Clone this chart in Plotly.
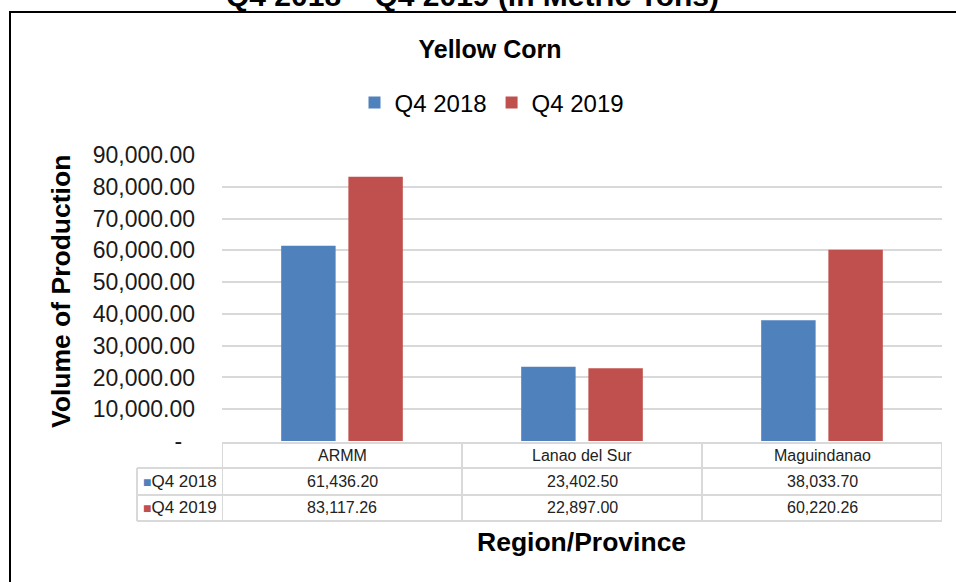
import plotly.graph_objects as go

# ---- data ----
categories = ["ARMM", "Lanao del Sur", "Maguindanao"]
series_names = ["Q4 2018", "Q4 2019"]
q4_2018 = [61436.20, 23402.50, 38033.70]
q4_2019 = [83117.26, 22897.00, 60220.26]
series_values = [q4_2018, q4_2019]
series_colors = ["#4f81bd", "#c0504d"]
y_tick_values = [0, 10000, 20000, 30000, 40000, 50000, 60000, 70000, 80000, 90000]
y_tick_labels = ["-\u00a0\u00a0", "10,000.00", "20,000.00", "30,000.00", "40,000.00",
                 "50,000.00", "60,000.00", "70,000.00", "80,000.00", "90,000.00"]

W, H = 956, 582
ML, MR, MT, MB = 222, 14, 155, 141
PH = H - MT - MB
PW = W - ML - MR


def py(p):  # pixel row -> paper y
    return (H - MB - p) / PH


def px(p):  # pixel col -> paper x
    return (p - ML) / PW


FONT = "Liberation Sans, Arial, sans-serif"
NARROW = "Liberation Sans Narrow, Arial Narrow, Liberation Sans, Arial, sans-serif"
GRID = "#d9d9d9"

fig = go.Figure()
for name, vals, col in zip(series_names, series_values, series_colors):
    fig.add_trace(go.Bar(x=categories, y=vals, name=name, marker=dict(color=col, line=dict(width=0))))

shapes = []
annotations = []

# outer chart border
shapes.append(dict(type="rect", xref="paper", yref="paper", x0=px(10), x1=px(1000),
                   y0=py(640), y1=py(12), line=dict(color="black", width=2), layer="above"))

# data table lines
rows_y = [443, 468, 495, 521]
n = len(categories)
shapes.append(dict(type="line", xref="x", yref="paper", x0=-0.5, x1=n - 0.5,
                   y0=py(rows_y[0]), y1=py(rows_y[0]), line=dict(color=GRID, width=2)))
for r in rows_y[1:]:
    shapes.append(dict(type="line", xref="paper", yref="paper", x0=px(137), x1=1,
                       y0=py(r), y1=py(r), line=dict(color=GRID, width=2)))
for i in range(n + 1):
    shapes.append(dict(type="line", xref="x", yref="paper", x0=i - 0.5, x1=i - 0.5,
                       y0=py(rows_y[0]), y1=py(rows_y[-1]), line=dict(color=GRID, width=2)))
shapes.append(dict(type="line", xref="paper", yref="paper", x0=px(137), x1=px(137),
                   y0=py(rows_y[1]), y1=py(rows_y[-1]), line=dict(color=GRID, width=2)))

# table text
for c in categories:
    annotations.append(dict(x=c, xref="x", y=py((rows_y[0] + rows_y[1]) / 2), yref="paper",
                            text=c, showarrow=False, yanchor="middle",
                            font=dict(family=NARROW, size=16, color="#222")))
for k, (name, vals, col) in enumerate(zip(series_names, series_values, series_colors)):
    yc = py((rows_y[k + 1] + rows_y[k + 2]) / 2)
    annotations.append(dict(x=px(141), xref="paper", y=yc, yref="paper", xanchor="left",
                            yanchor="middle", showarrow=False,
                            text=f"<span style='color:{col};font-size:14px'>■</span>{name}",
                            font=dict(family=NARROW, size=17, color="#222")))
    for c, v in zip(categories, vals):
        annotations.append(dict(x=c, xref="x", y=yc, yref="paper", text=f"{v:,.2f}",
                                showarrow=False, yanchor="middle",
                                font=dict(family=NARROW, size=16, color="#222")))

# page title (cut off at top, as in the source)
annotations.append(dict(x=px(472), xref="paper", y=py(14), yref="paper", yanchor="bottom",
                        text="<b>Q4 2018 – Q4 2019 (in Metric Tons)</b>", showarrow=False,
                        font=dict(family=FONT, size=30, color="black")))
# axis titles
annotations.append(dict(x=px(61), xref="paper", y=py(292), yref="paper", textangle=-90,
                        text="<b>Volume of Production</b>", showarrow=False,
                        xanchor="center", yanchor="middle",
                        font=dict(family=FONT, size=26.5, color="black")))
annotations.append(dict(x=px(581), xref="paper", y=py(542), yref="paper",
                        text="<b>Region/Province</b>", showarrow=False,
                        xanchor="center", yanchor="middle",
                        font=dict(family=FONT, size=26.5, color="black")))

fig.update_layout(
    width=W, height=H,
    margin=dict(l=ML, r=MR, t=MT, b=MB, autoexpand=False),
    paper_bgcolor="white", plot_bgcolor="white",
    barmode="group", bargap=0.44, bargroupgap=0.19,
    title=dict(text="<b>Yellow Corn</b>", x=490 / W, xref="container", xanchor="center",
               y=1 - 49 / H, yref="container", yanchor="middle",
               font=dict(family=FONT, size=25, color="black")),
    legend=dict(orientation="h", x=px(492), xanchor="center", y=py(103), yanchor="middle",
                font=dict(family=FONT, size=24, color="black"), itemwidth=30,
                bgcolor="rgba(0,0,0,0)"),
    xaxis=dict(showticklabels=False, showgrid=False, showline=False, zeroline=False,
               ticks="", range=[-0.5, n - 0.5]),
    yaxis=dict(range=[0, 90000], tickvals=y_tick_values, ticktext=y_tick_labels,
               showgrid=True, gridcolor=GRID, gridwidth=2, zeroline=False, showline=False,
               ticks="", ticklabelstandoff=26,
               tickfont=dict(family=FONT, size=23, color="#1a1a1a")),
    shapes=shapes,
    annotations=annotations,
    showlegend=True,
)

fig.write_html(
    "out.html",
    config={"displayModeBar": False},
    post_script="document.body.style.margin='0';document.body.style.overflow='hidden';",
)
